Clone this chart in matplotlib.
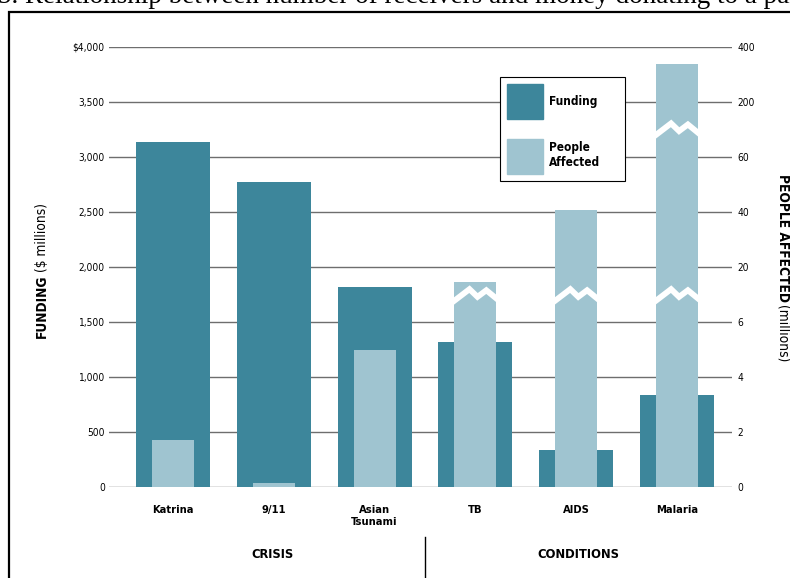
import numpy as np
import matplotlib
matplotlib.use("Agg")
import matplotlib.pyplot as plt
from matplotlib.patches import Rectangle, Patch
from matplotlib.scale import FuncScale

categories = ["Katrina", "9/11", "Asian\nTsunami", "TB", "AIDS", "Malaria"]
funding = [3140, 2775, 1820, 1320, 335, 840]          # $ millions
people = [1.7, 0.16, 5.0, 16.2, 40.7, 338]           # millions

left_ticks = [0, 500, 1000, 1500, 2000, 2500, 3000, 3500, 4000]
left_labels = ["0", "500", "1,000", "1,500", "2,000", "2,500", "3,000", "3,500", "$4,000"]
right_ticks = [0, 2, 4, 6, 20, 40, 60, 200, 400]

# broken-axis marks on the people bars (people units)
breaks = {3: [12.4], 4: [12.4], 5: [12.4, 126]}

dark = "#3d869b"
light = "#9fc4d0"
grid = "#6e6e6e"
font = {"family": "DejaVu Sans", "stretch": "condensed"}

fig = plt.figure(figsize=(7.9, 5.78), dpi=100)
W, H = 790, 578
ax = fig.add_axes([109 / W, 1 - 487 / H, (732 - 109) / W, 440 / H])

x = np.arange(len(categories))
ax.bar(x, funding, width=0.734, color=dark, zorder=2)
ax.set_ylim(0, 4000)
ax.set_xlim(-0.635, 5.546)
ax.set_yticks(left_ticks)
ax.set_yticklabels(left_labels, fontsize=7.3, **font)
ax.set_xticks(x)
ax.set_xticklabels(categories, fontsize=8, fontweight="bold", va="top", **font)
ax.tick_params(axis="both", length=0)
ax.tick_params(axis="y", pad=3)
ax.tick_params(axis="x", pad=13)
ax.yaxis.grid(True, color=grid, lw=1)
ax.set_axisbelow(True)
for s in ax.spines.values():
    s.set_visible(False)

# right axis: piecewise scale for people affected
pos = np.array(left_ticks, dtype=float)
rt = np.array(right_ticks, dtype=float)
fwd = lambda v: np.interp(v, rt, pos)
inv = lambda v: np.interp(v, pos, rt)

ax2 = ax.twinx()
ax2.set_yscale(FuncScale(ax2.yaxis, (fwd, inv)))
ax2.set_ylim(0, 400)
ax2.bar(x, people, width=0.417, color=light, zorder=2)
ax2.set_yticks(right_ticks)
ax2.set_yticklabels([str(t) for t in right_ticks], fontsize=7.3, **font)
ax2.tick_params(axis="y", length=0, pad=4)
for s in ax2.spines.values():
    s.set_visible(False)

# zigzag breaks
zx = np.array([-0.5, -0.14, 0.05, 0.26, 0.5]) * 0.417
zy = np.array([-35, 70, 0, 60, -15])
for i, bl in breaks.items():
    for b in bl:
        ax2.plot(x[i] + zx, fwd(b) + zy, color="white", lw=4.2,
                 solid_joinstyle="miter", transform=ax.transData, zorder=3)

leg = ax2.legend(handles=[Patch(color=dark, label="Funding"),
                          Patch(color=light, label="People\nAffected")],
                 loc="upper left", bbox_to_anchor=(0.628, 0.0, 0.2, 0.932), mode="expand",
                 prop={"size": 8.5, "weight": "bold", **font},
                 handlelength=3.0, handleheight=4.2, labelspacing=1.7,
                 handletextpad=0.5, borderpad=0.6, borderaxespad=0,
                 fancybox=False, edgecolor="black", framealpha=1)
leg.get_frame().set_linewidth(0.8)

# axis titles
t1 = fig.text(42 / W, 1 - 338 / H, "FUNDING", rotation=90, ha="center", va="bottom",
              fontsize=9.8, fontweight="bold", **font)
ax.annotate("($ millions)", xy=(0.5, 1), xycoords=t1, xytext=(0, 2),
            textcoords="offset points", rotation=90, ha="center", va="bottom",
            fontsize=9.8, annotation_clip=False, **font)
t2 = fig.text(783 / W, 1 - 174 / H, "PEOPLE AFFECTED", rotation=-90, ha="center",
              va="top", fontsize=9.8, fontweight="bold", **font)
ax.annotate("(millions)", xy=(0.5, 0), xycoords=t2, xytext=(0, -2),
            textcoords="offset points", rotation=-90, ha="center", va="top",
            fontsize=9.8, annotation_clip=False, **font)

# group labels
fig.text(273 / W, 1 - 555 / H, "CRISIS", ha="center", va="center",
         fontsize=9.3, fontweight="bold", **font)
fig.text(578 / W, 1 - 555 / H, "CONDITIONS", ha="center", va="center",
         fontsize=9.3, fontweight="bold", **font)
fig.add_artist(plt.Line2D([425 / W, 425 / W], [1 - 537 / H, 0], color="black", lw=1))

# page frame and cut-off caption
fig.add_artist(Rectangle((9 / W, -0.1), 1.1, (1 - 12 / H) + 0.1, fill=False,
                         edgecolor="black", lw=1.6, transform=fig.transFigure))
fig.text(-2 / W, 1 - 3 / H, "5. Relationship between number of receivers and money donating to a particular cause",
         ha="left", va="baseline", fontsize=19.5, family="Liberation Serif")

fig.savefig("out.png", dpi=100)
